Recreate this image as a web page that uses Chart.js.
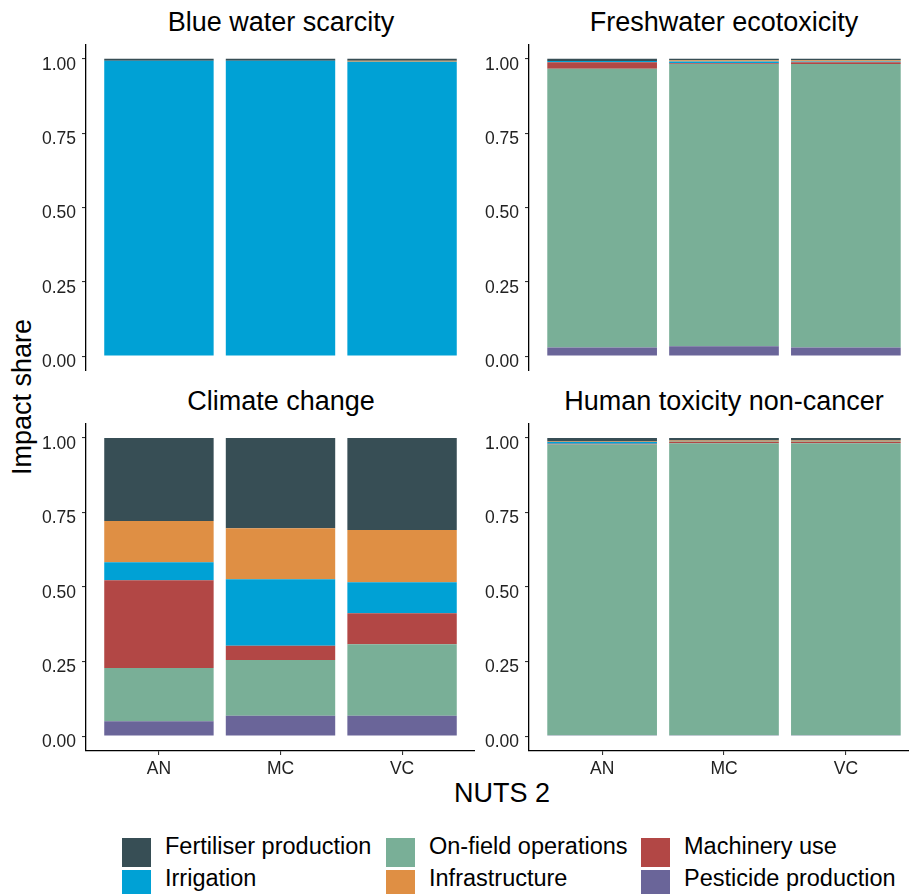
<!DOCTYPE html>
<html>
<head>
<meta charset="utf-8">
<script src="https://cdn.jsdelivr.net/npm/chart.js@4/dist/chart.umd.min.js"></script>
<style>
    html, body { margin: 0; padding: 0; overflow: hidden; background: #fff; }
    body { width: 909px; height: 894px; position: relative; font-family: "Liberation Sans", Arial, sans-serif; color: #000; }
    canvas { position: absolute; }
    .t { position: absolute; white-space: nowrap; line-height: 1; transform: translate(-50%, -50%); }
    .title { font-size: 27px; }
    .axis-title { font-size: 27px; }
    .rot { transform: translate(-50%, -50%) rotate(-90deg); }
    .key { position: absolute; width: 29px; height: 29px; }
    .lab { position: absolute; font-size: 23.5px; line-height: 1; white-space: nowrap; transform: translateY(-50%); }
</style>
</head>
<body>

<div class="t title" style="left:281px; top:22px;">Blue water scarcity</div>
<div class="t title" style="left:724px; top:22px;">Freshwater ecotoxicity</div>
<div class="t title" style="left:281px; top:401px;">Climate change</div>
<div class="t title" style="left:724px; top:401px;">Human toxicity non-cancer</div>
<div class="t axis-title rot" style="left:22px; top:397px;">Impact share</div>
<div class="t axis-title" style="left:502px; top:793px;">NUTS 2</div>

<canvas id="blueWater" width="475" height="327" style="left:0; top:44px;"></canvas>
<canvas id="freshwater" width="479" height="327" style="left:440px; top:44px;"></canvas>
<canvas id="climate" width="475" height="368" style="left:0; top:423px;"></canvas>
<canvas id="humanTox" width="479" height="368" style="left:440px; top:423px;"></canvas>

<div id="legend"></div>

<script>
// regions on the x axis
var regions = ['AN', 'MC', 'VC'];
var yTicks = [0, 0.25, 0.5, 0.75, 1];

// processes, stacked bottom -> top
var processes = ['Pesticide production', 'On-field operations', 'Machinery use', 'Irrigation', 'Infrastructure', 'Fertiliser production'];
var colours = ['#6A6599', '#79AF97', '#B24745', '#00A1D5', '#DF8F44', '#374E55'];

// legend order (two rows, three columns, filled by column)
var legendOrder = ['Fertiliser production', 'Irrigation', 'On-field operations', 'Infrastructure', 'Machinery use', 'Pesticide production'];

// impact shares, one row per process (same order as processes), values for AN, MC, VC
var blueWaterShares = [
    [0, 0, 0],
    [0, 0, 0],
    [0, 0, 0],
    [0.994, 0.994, 0.990],
    [0, 0, 0.004],
    [0.006, 0.006, 0.006]
];

var freshwaterShares = [
    [0.029, 0.033, 0.029],
    [0.938, 0.950, 0.954],
    [0.022, 0.002, 0.006],
    [0.004, 0.006, 0.002],
    [0, 0.004, 0.004],
    [0.007, 0.005, 0.005]
];

var climateShares = [
    [0.050, 0.068, 0.068],
    [0.178, 0.187, 0.240],
    [0.295, 0.048, 0.104],
    [0.060, 0.223, 0.104],
    [0.138, 0.171, 0.175],
    [0.279, 0.303, 0.309]
];

var humanToxShares = [
    [0.003, 0.003, 0.003],
    [0.975, 0.979, 0.979],
    [0.002, 0.004, 0.004],
    [0.006, 0.001, 0.001],
    [0.002, 0.004, 0.004],
    [0.012, 0.009, 0.009]
];

(function () {
    var tickFont = { family: '"Liberation Sans", Arial, sans-serif', size: 17.5 };

    function buildPanel(id, shares, yWidth, showX) {
        var canvas = document.getElementById(id);
        if (!canvas || typeof Chart === 'undefined') {
            return;
        }

        var datasets = processes.map(function (name, i) {
            return {
                label: name,
                data: shares[i].map(function (v, j) { return { x: j + 1, y: v }; }),
                backgroundColor: colours[i],
                borderWidth: 0,
                barPercentage: 0.9,
                categoryPercentage: 1
            };
        });

        new Chart(canvas, {
            type: 'bar',
            data: { datasets: datasets },
            options: {
                responsive: false,
                animation: false,
                layout: { padding: 0 },
                plugins: { legend: { display: false }, tooltip: { enabled: false } },
                scales: {
                    x: {
                        type: 'linear',
                        stacked: true,
                        offset: false,
                        min: 0.4,
                        max: 3.6,
                        display: showX,
                        afterBuildTicks: function (scale) {
                            scale.ticks = regions.map(function (r, i) { return { value: i + 1 }; });
                        },
                        afterFit: function (scale) {
                            if (!showX) {
                                scale.height = 0;
                                return;
                            }
                            scale.height = 368 - 328;
                            scale.paddingLeft = 0;
                            scale.paddingRight = 0;
                        },
                        ticks: {
                            autoSkip: false,
                            maxRotation: 0,
                            padding: 4,
                            color: '#222',
                            font: tickFont,
                            callback: function (v) { return regions[v - 1]; }
                        },
                        grid: { offset: false, drawOnChartArea: false, drawTicks: true, tickLength: 4, tickColor: '#333', lineWidth: 1.1 },
                        border: { display: true, color: '#000', width: 1.3 }
                    },
                    y: {
                        stacked: true,
                        min: -0.05,
                        max: 1.05,
                        afterBuildTicks: function (scale) {
                            scale.ticks = yTicks.map(function (v) { return { value: v }; });
                        },
                        afterFit: function (scale) {
                            scale.width = yWidth;
                            scale.paddingTop = 0;
                            scale.paddingBottom = 0;
                        },
                        ticks: {
                            padding: 6,
                            labelOffset: 6,
                            color: '#222',
                            font: tickFont,
                            callback: function (v) { return Number(v).toFixed(2); }
                        },
                        grid: { drawOnChartArea: false, drawTicks: true, tickLength: 4, tickColor: '#333', lineWidth: 1.1 },
                        border: { display: true, color: '#000', width: 1.3 }
                    }
                }
            }
        });
    }

    function buildLegend() {
        var box = document.getElementById('legend');
        var colX = [122, 386, 641];
        var rowY = [838, 870];
        legendOrder.forEach(function (name, k) {
            var col = Math.floor(k / 2);
            var row = k % 2;
            var key = document.createElement('div');
            key.className = 'key';
            key.style.left = colX[col] + 'px';
            key.style.top = rowY[row] + 'px';
            key.style.background = colours[processes.indexOf(name)];
            box.appendChild(key);

            var lab = document.createElement('div');
            lab.className = 'lab';
            lab.textContent = name;
            lab.style.left = (colX[col] + 43) + 'px';
            lab.style.top = (rowY[row] + 9) + 'px';
            box.appendChild(lab);
        });
    }

    buildPanel('blueWater', blueWaterShares, 86, false);
    buildPanel('freshwater', freshwaterShares, 89, false);
    buildPanel('climate', climateShares, 86, true);
    buildPanel('humanTox', humanToxShares, 89, true);
    buildLegend();
})();
</script>
</body>
</html>
